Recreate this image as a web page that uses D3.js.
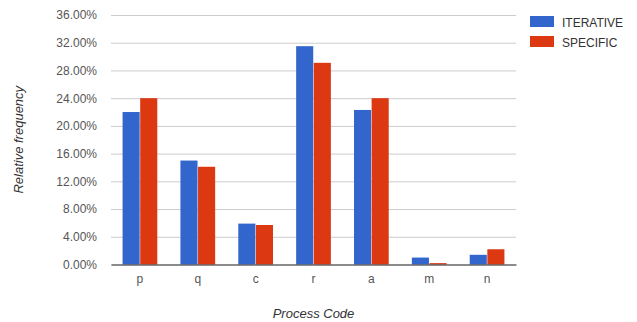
<!DOCTYPE html>
<html>
<head>
<meta charset="utf-8">
<script src="https://cdn.jsdelivr.net/npm/d3@7"></script>
<style>
  html, body { margin: 0; padding: 0; background: #fff; }
  svg { display: block; font-family: Arial, "Liberation Sans", sans-serif; }
</style>
</head>
<body>
<svg id="chart" width="637" height="322"></svg>
<script>
// Relative frequency (%) of each process code, per group
const categories = ["p", "q", "c", "r", "a", "m", "n"];
const seriesNames = ["ITERATIVE", "SPECIFIC"];
const iterative = [22.0, 15.0, 5.9, 31.5, 22.3, 1.0, 1.4];
const specific  = [24.0, 14.1, 5.7, 29.1, 24.0, 0.2, 2.2];
const yTicks = [0, 4, 8, 12, 16, 20, 24, 28, 32, 36];
const colors = ["#3366cc", "#dc3912"];

const svg = d3.select("#chart");
const margin = { left: 111, right: 121, top: 15, bottom: 57.5 };
const W = 637, H = 322;
const plotW = W - margin.left - margin.right;
const plotH = H - margin.top - margin.bottom;

const table = categories.map((c, i) => ({ cat: c, values: [iterative[i], specific[i]] }));

const x = d3.scaleBand().domain(categories).range([0, plotW]).paddingInner(0.4).paddingOuter(0.2);
const xs = d3.scaleBand().domain(seriesNames).range([0, x.bandwidth()]).paddingInner(0.03);
const y = d3.scaleLinear().domain([0, 36]).range([plotH, 0]);

const g = svg.append("g").attr("transform", `translate(${margin.left},${margin.top})`);

// Horizontal grid with percentage labels
const yAxis = d3.axisLeft(y).tickValues(yTicks).tickSize(-plotW).tickPadding(14)
  .tickFormat(d => d.toFixed(2) + "%");
const ya = g.append("g").call(yAxis);
ya.select(".domain").remove();
ya.selectAll(".tick line").attr("stroke", "#cccccc").attr("stroke-width", 1);
ya.selectAll(".tick text").attr("fill", "#555").style("font-size", "12px");

// Bars
const groups = g.selectAll(".grp").data(table).join("g")
  .attr("transform", d => `translate(${x(d.cat)},0)`);
groups.selectAll("rect").data(d => d.values.map((v, k) => ({ v, k }))).join("rect")
  .attr("x", d => xs(seriesNames[d.k]))
  .attr("width", xs.bandwidth())
  .attr("y", d => y(d.v))
  .attr("height", d => plotH - y(d.v))
  .attr("fill", d => colors[d.k]);

// Baseline and category labels
const xAxis = d3.axisBottom(x).tickSize(0).tickPadding(10);
const xa = g.append("g").attr("transform", `translate(0,${plotH})`).call(xAxis);
xa.select(".domain").attr("stroke", "#333").attr("stroke-width", 1.2);
xa.selectAll(".tick text").attr("fill", "#555").style("font-size", "12px");

// Axis titles
svg.append("text")
  .attr("x", margin.left + plotW / 2).attr("y", 318)
  .attr("text-anchor", "middle").attr("font-style", "italic")
  .attr("fill", "#333").style("font-size", "13px")
  .text("Process Code");
svg.append("text")
  .attr("transform", `translate(23,${margin.top + plotH / 2}) rotate(-90)`)
  .attr("text-anchor", "middle").attr("font-style", "italic")
  .attr("fill", "#333").style("font-size", "13px")
  .text("Relative frequency");

// Legend
const legend = svg.append("g").attr("transform", "translate(530,16)");
seriesNames.forEach((name, i) => {
  const row = legend.append("g").attr("transform", `translate(0,${i * 20})`);
  row.append("rect").attr("width", 24).attr("height", 11).attr("fill", colors[i]);
  row.append("text").attr("x", 32).attr("y", 10.5)
    .attr("fill", "#333").style("font-size", "12px").text(name);
});
</script>
</body>
</html>
